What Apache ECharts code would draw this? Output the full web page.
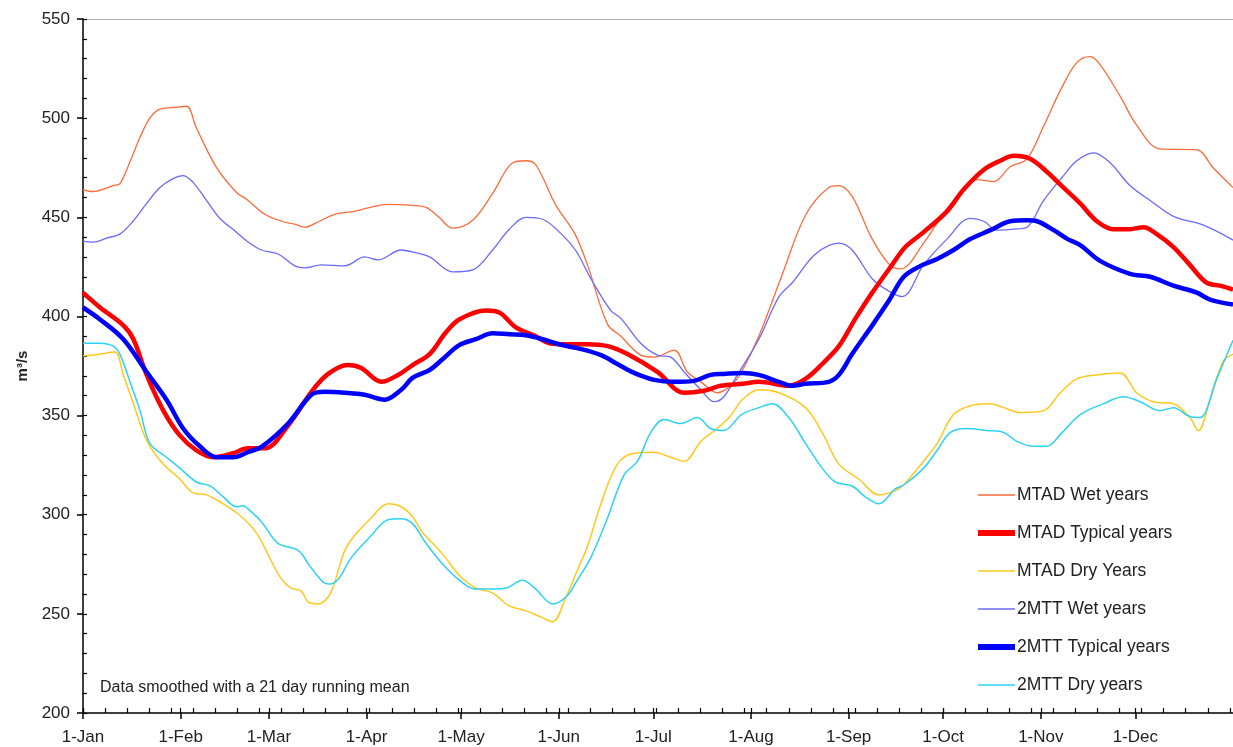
<!DOCTYPE html>
<html>
<head>
<meta charset="utf-8">
<script src="https://cdn.jsdelivr.net/npm/echarts@6/dist/echarts.min.js"></script>
<style>
  html, body { margin: 0; padding: 0; background: #ffffff; }
  #chart { width: 1233px; height: 747px; }
</style>
</head>
<body>
<div id="chart"></div>
<script>
// month starts (day of year) and their labels
const monthDays = [0, 31, 59, 90, 120, 151, 181, 212, 243, 273, 304, 334];
const monthLabels = ["1-Jan", "1-Feb", "1-Mar", "1-Apr", "1-May", "1-Jun",
    "1-Jul", "1-Aug", "1-Sep", "1-Oct", "1-Nov", "1-Dec"];

const seriesNames = ["MTAD Wet years", "MTAD Typical years", "MTAD Dry Years",
    "2MTT Wet years", "2MTT Typical years", "2MTT Dry years"];

// [day of year, m3/s]
const mtadWet = [[0,464],[3,463],[9.6,466],[11.7,467],[14.9,478],[18,490],[21.2,500],[24.4,504.5],[29.7,505.5],[32.9,506],[36,495],[42.4,475],[48.7,462.5],[52,459],[57.7,451.5],[63,448],[67.2,446.5],[70.4,445],[75,448],[79.9,451.5],[86.2,453],[96.8,456.5],[104.6,456],[108.9,455],[113,450],[117.3,444.5],[123.7,448.5],[130,462],[136.4,477.5],[140.6,478.5],[143.7,476.5],[150.1,456],[156,442],[160.1,426],[166.5,396],[170.7,390],[177,380.5],[181.3,379.5],[187.6,383],[191.8,372],[196.1,367],[201.3,361.5],[205.6,365],[209,372],[214.5,390],[221.9,421],[229.3,451],[236.7,465],[239.9,466],[244.1,460.5],[250.5,439],[256,426],[259.5,424],[266.8,437],[273.2,452],[279.5,464],[283.7,469],[289,468],[294.3,475.5],[299.6,479.5],[304.9,496],[310.2,514],[315.4,528],[319.7,531],[322.8,527],[329.2,511],[334.4,496.5],[341.8,484.5],[353.5,484],[358.7,475],[365,465]];
const mtadTypical = [[0,412],[5.4,404.5],[12.8,395.5],[16,388.5],[20.2,370.5],[25.5,352.5],[30.7,340],[36,332.5],[41.3,329],[47.6,331],[52.3,333.5],[57.7,333.5],[65.1,345],[72.5,362],[77.8,371],[84.1,375.5],[88.3,374],[94.7,367],[100,370.5],[104.6,375.5],[110,381],[115.2,392],[119.4,398.5],[127.9,403],[132.1,402],[137.4,394.5],[143.7,390],[148,386.5],[153.3,386],[160,386],[166.5,385],[172.8,381],[182.3,372],[190.8,361.5],[197.1,362.5],[202.4,365],[209.2,366],[214.5,367],[224,365],[229.3,368.5],[234.6,376],[239.9,385],[245.2,399],[250.5,412],[256.8,426],[261,435],[266.8,442.5],[274.2,453],[279.5,464],[285.9,474],[291.1,478.5],[295.4,481],[300.6,479.5],[305.9,473],[310.2,466.5],[316.5,457],[321.8,448],[327,444],[332.3,444],[336.6,445],[340.8,441.5],[346.1,435],[351.3,426],[356.6,417],[360.9,415.5],[365,413.5]];
const mtadDry = [[0,380],[5.4,381],[10.1,382],[12.8,370.5],[16,356],[19.1,341.5],[21.2,334.5],[25.5,325.5],[30.7,318],[35,311],[39.2,310],[44.5,305.5],[48.7,301],[52.3,296],[55.6,289.5],[59.8,276.5],[63,267.5],[66.1,263],[69.3,261.5],[71.4,256],[74.6,255],[77.8,258.5],[79.9,266],[83.1,282],[86.2,289.5],[91.5,298.5],[96.8,305.5],[101,304],[104.6,299],[107.8,291],[114.2,280],[119.4,269.5],[124.7,263],[130,260.5],[135.3,254],[140.6,251.5],[145.9,248],[149,246],[153.3,258.5],[156.9,272],[160.1,284],[164.4,305.5],[169.6,325.5],[174.9,331],[181.3,331.5],[186.5,329],[190.8,327],[196.1,337],[201.3,343.5],[205.6,350],[209.2,358],[214.5,363],[220.9,361.5],[229.3,354],[234.6,341.5],[239.9,325.5],[246.2,318],[252.6,310],[258.9,313],[261.5,317],[266.8,327],[271.1,336],[276.3,350.5],[281.6,355],[287.9,356],[292.2,354],[297.5,351.5],[304.9,352.5],[310.2,361.5],[315.4,368.5],[321.8,370.5],[329.2,371.5],[334.4,361.5],[339.7,357],[346.1,356],[351.3,349],[354,342.5],[357.7,358],[361.9,377.5],[365,381]];
const mttWet = [[0,438],[3.3,437.5],[7.5,439.5],[11.7,441.5],[15.9,448],[20.2,457],[24.4,465],[28.6,469.5],[31.8,471],[35,467.5],[39.2,458.5],[43.4,449.5],[48.7,442.5],[52,438],[56.6,433.5],[61.9,431.5],[67.2,425.5],[70.4,424.5],[75.7,426],[83,425.5],[89.4,430],[93.6,428.5],[101,433.5],[104.6,432.5],[110,430],[117.3,422.5],[123.7,423.5],[130,433.5],[135.3,444],[140.6,450],[145.9,449],[152.2,441],[156.5,433],[161.2,419],[167.5,403],[170.7,399],[177,386.5],[182.3,380.5],[186.5,379.5],[190.8,372],[196.1,363],[200.3,357],[203.4,359.5],[207.7,370.5],[214.5,388.5],[220.9,410],[225.1,417],[232.5,431.5],[239.9,437],[244.1,433.5],[250.5,419],[255.5,413],[260,410],[266.8,426],[274.2,439],[281.6,449.5],[285.9,448],[290.1,443.5],[295.4,444],[299.6,445],[304.9,458.5],[311.2,471],[315.4,478.5],[320.7,482.5],[326,477.5],[332.3,466],[338.7,458.5],[346.1,450.5],[355.6,446],[365,438.5]];
const mttTypical = [[0,404.5],[5.4,398.5],[12.8,388.5],[20.2,372],[26.5,358],[31.8,343.5],[37.1,334.5],[42.4,329],[47.7,329],[52.3,331.5],[56.9,334.5],[65.1,346],[72.5,360.5],[76.7,362],[83.1,361.5],[89.4,360.5],[95.7,358],[101,363],[104.6,369],[110,373],[114.2,378.5],[119.4,385.5],[124.7,388.5],[130,391.5],[135.3,391],[140.6,390.5],[145.9,388.5],[152.2,385.5],[156.9,384],[164.4,380.5],[169.6,376],[174.9,371.5],[181.3,368],[187.6,367],[193.9,367.5],[199.2,370.5],[203.4,371],[209.2,371.5],[214.5,370.5],[220.9,367],[225.1,365],[229.3,366],[236.7,367],[239.9,370.5],[244.1,381],[250.5,395.5],[255.8,408],[260.5,420],[265.8,425.5],[271.1,429],[276.3,433.5],[281.6,439],[288,443.5],[294.3,448],[299.6,448.5],[302.8,448],[308.1,443.5],[312.5,439],[316.5,436],[322.8,428],[332.3,421.5],[338.7,420],[346.1,415.5],[353.5,412],[357.7,408.5],[365,406]];
const mttDry = [[0,386.5],[5.4,386.5],[9.6,385],[11.7,381],[14.9,367],[18.1,352.5],[21.2,336],[26.5,329],[30.7,323.5],[36,316.5],[40.3,314.5],[44.5,309],[48.7,304],[50.8,304.5],[52.3,303],[56.6,296.5],[61.9,285.5],[68.3,282],[72.5,273],[77.8,265],[81,267.5],[85.2,278.5],[91.5,289.5],[96.8,297.5],[101,298],[104.6,295.5],[108.9,285.5],[114.2,275],[119.4,267],[124.7,262.5],[130,262.5],[134.2,263],[139.5,267],[143.7,262.5],[149,255],[153.3,258.5],[156.5,266],[161.2,278.5],[166.5,298.5],[171.7,320],[176,327],[180.2,341.5],[184.4,348],[189.7,346],[195,349],[199.2,343.5],[203.4,342.5],[209,350.5],[214.5,354],[218.8,356],[224,349],[229.3,336],[234.6,323.5],[238.8,316.5],[244.1,314.5],[248.3,309],[252.6,305.5],[257.8,313],[261,315.5],[266.8,323.5],[271.1,332.5],[275.3,341.5],[280.6,343.5],[286.9,342.5],[292.2,341.5],[296.4,337],[301.7,334.5],[305.9,334.5],[310.5,341],[316.5,350.5],[323.9,356],[330.2,359.5],[335.5,357],[341.8,352.5],[346.1,354],[351.3,349.5],[354.5,349],[359.8,368.5],[365,388]];

const seriesData = [mtadWet, mtadTypical, mtadDry, mttWet, mttTypical, mttDry];
const colors = ["#ff6a3a", "#ff0000", "#ffc81e", "#6a6aff", "#0000ff", "#2cd2f4"];
const widths = [1.3, 4.5, 1.5, 1.3, 4.5, 1.5];

const fontFamily = "Liberation Sans, Arial, sans-serif";

function createFlowChart() {
    let chartDom = document.getElementById("chart");
    let myChart = echarts.init(chartDom, null, { renderer: "canvas" });

    // weekly minor ticks plus the month starts
    let weekTicks = [];
    for (let d = 0; d <= 364; d += 7) weekTicks.push(d);

    let series = [];
    let legendData = [];
    for (let i = 0; i < seriesNames.length; i++) {
        series.push({
            name: seriesNames[i],
            type: "line",
            data: seriesData[i],
            smooth: 0.35,
            symbol: "none",
            showSymbol: false,
            lineStyle: { color: colors[i], width: widths[i] },
            itemStyle: { color: colors[i] },
            xAxisIndex: 0,
            yAxisIndex: 0,
            z: widths[i] > 3 ? 3 : 2,
        });
        legendData.push({
            name: seriesNames[i],
            lineStyle: { width: widths[i] > 3 ? 6 : 1.3 },
        });
    }

    let option = {
        animation: false,
        backgroundColor: "#ffffff",
        grid: { left: 83, right: 0, top: 19, bottom: 34, containLabel: false },
        legend: {
            orient: "vertical",
            left: 970,
            top: 481,
            itemWidth: 37,
            itemHeight: 14,
            itemGap: 20,
            data: legendData,
            // hide the round marker, keep only the line
            itemStyle: { opacity: 0 },
            textStyle: { fontSize: 17.5, fontFamily, color: "#222222", padding: [0, 0, 0, -3] },
        },
        xAxis: [
            {
                type: "value",
                min: 0,
                max: 365,
                position: "bottom",
                axisLine: { lineStyle: { color: "#000000", width: 1.5 } },
                axisTick: {
                    customValues: monthDays,
                    inside: false,
                    length: 6,
                    lineStyle: { color: "#000000", width: 1.5 },
                },
                axisLabel: {
                    customValues: monthDays,
                    margin: 16,
                    fontSize: 17,
                    fontFamily,
                    color: "#222222",
                    formatter: (v) => monthLabels[monthDays.indexOf(v)],
                },
                splitLine: { show: false },
            },
            {
                type: "value",
                min: 0,
                max: 365,
                position: "bottom",
                axisLine: { show: false },
                axisTick: {
                    customValues: weekTicks.concat(monthDays),
                    inside: true,
                    length: 5,
                    lineStyle: { color: "#000000", width: 1.2 },
                },
                axisLabel: { show: false },
                splitLine: { show: false },
            },
            {
                type: "value",
                min: 0,
                max: 365,
                position: "top",
                axisLine: { lineStyle: { color: "#b0b0b0", width: 1 } },
                axisTick: { show: false },
                axisLabel: { show: false },
                splitLine: { show: false },
            },
        ],
        yAxis: [
            {
                type: "value",
                min: 200,
                max: 550,
                interval: 50,
                position: "left",
                name: "m³/s",
                nameLocation: "middle",
                nameRotate: 90,
                nameGap: 52,
                nameTextStyle: { fontSize: 15, fontWeight: "bold", fontFamily, color: "#222222" },
                axisLine: { show: true, lineStyle: { color: "#000000", width: 1.5 } },
                axisTick: { show: true, inside: false, length: 6, lineStyle: { color: "#000000", width: 1.5 } },
                axisLabel: { margin: 13, fontSize: 17, fontFamily, color: "#222222" },
                splitLine: { show: false },
            },
            {
                type: "value",
                min: 200,
                max: 550,
                interval: 10,
                position: "left",
                axisLine: { show: false },
                axisTick: { show: true, inside: true, length: 4, lineStyle: { color: "#000000", width: 1.2 } },
                axisLabel: { show: false },
                splitLine: { show: false },
            },
        ],
        graphic: [
            {
                type: "text",
                left: 100,
                top: 680,
                style: {
                    text: "Data smoothed with a 21 day running mean",
                    font: "16px " + fontFamily,
                    fill: "#222222",
                },
            },
        ],
        series,
    };

    option && myChart.setOption(option);
}

createFlowChart();
</script>
</body>
</html>
